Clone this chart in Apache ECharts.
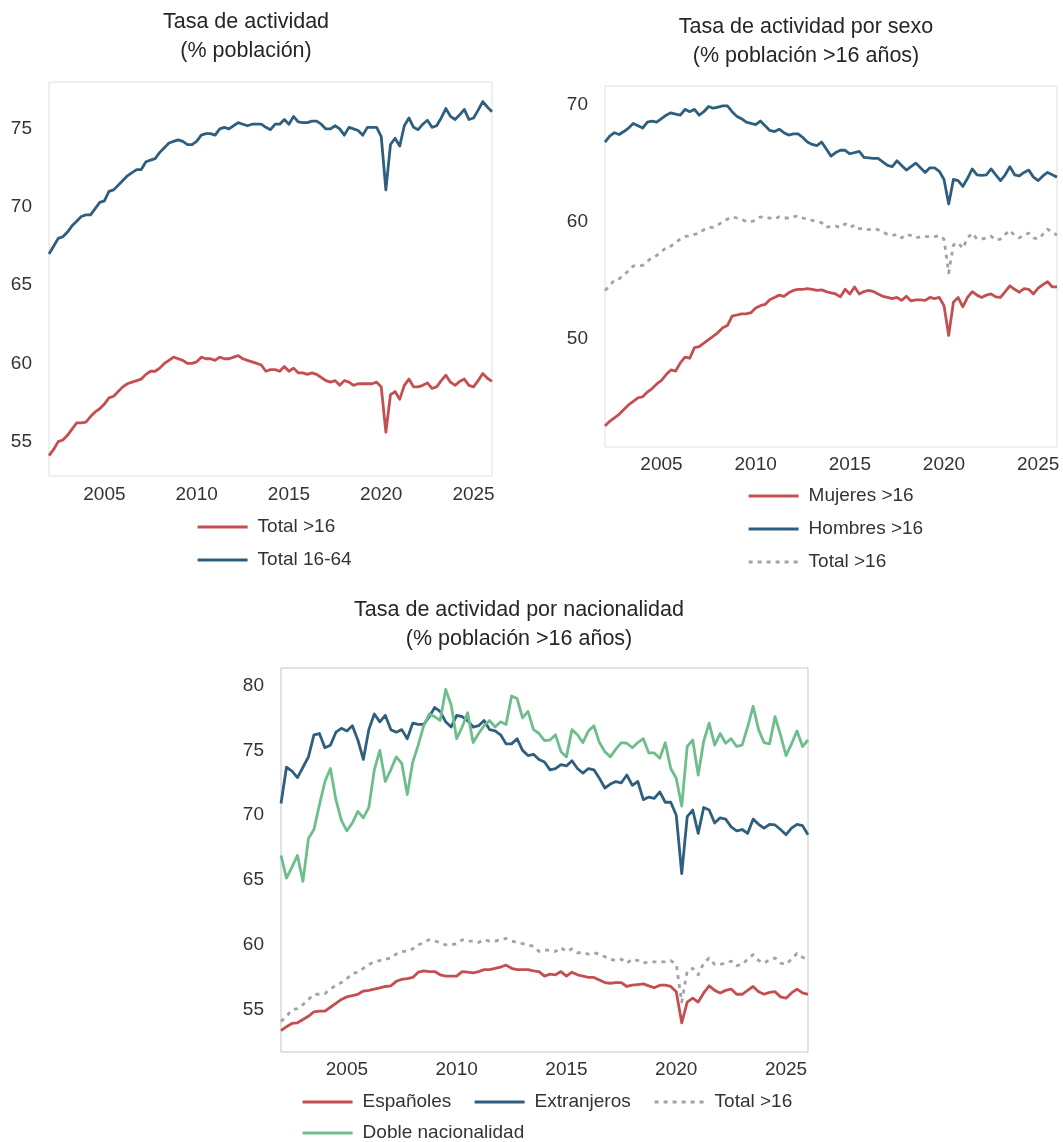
<!DOCTYPE html>
<html>
<head>
<meta charset="utf-8">
<title>Tasa de actividad</title>
<script src="https://cdn.jsdelivr.net/npm/echarts@6/dist/echarts.min.js"></script>
<style>
  html, body { margin: 0; padding: 0; background: #fff; }
  #chart { width: 1063px; height: 1142px; }
</style>
</head>
<body>
<div id="chart"></div>
<script>
// trimestres 2002T1 .. 2026T1
const quarters = [];
for (let y = 2002; y <= 2026; y++) {
  for (let q = 1; q <= 4; q++) {
    if (y === 2026 && q > 1) break;
    quarters.push(y + 'T' + q);
  }
}

const xTicks = [2005, 2010, 2015, 2020, 2025];
const yTicks1 = [55, 60, 65, 70, 75];
const yTicks2 = [50, 60, 70];
const yTicks3 = [55, 60, 65, 70, 75, 80];

// Total >16 (panel 1 en rojo, paneles 2 y 3 en gris punteado)
const total16 = [
  54.1, 54.5, 55.0, 55.1, 55.4, 55.8, 56.2, 56.2, 56.25, 56.6,
  56.9, 57.1, 57.4, 57.8, 57.9, 58.2, 58.5, 58.7, 58.8, 58.9,
  59.0, 59.3, 59.5, 59.5, 59.7, 60.0, 60.2, 60.4, 60.3, 60.2,
  60.0, 60.0, 60.1, 60.4, 60.3, 60.3, 60.2, 60.4, 60.3, 60.3,
  60.4, 60.5, 60.3, 60.2, 60.1, 60.0, 59.9, 59.5, 59.6, 59.6,
  59.5, 59.8, 59.5, 59.7, 59.4, 59.4, 59.3, 59.4, 59.3, 59.1,
  58.9, 58.8, 58.9, 58.6, 58.9, 58.8, 58.6, 58.7, 58.7, 58.7,
  58.7, 58.8, 58.5, 55.6, 58.0, 58.2, 57.7, 58.6, 59.0, 58.5,
  58.5, 58.6, 58.75, 58.4, 58.5, 58.9, 59.25, 58.8, 58.6, 58.85,
  59.0, 58.6, 58.5, 58.9, 59.35, 59.05, 58.85
];
const total1664 = [
  67.0, 67.5, 68.0, 68.1, 68.4, 68.8, 69.1, 69.4, 69.5, 69.5,
  69.9, 70.3, 70.4, 71.0, 71.1, 71.4, 71.7, 72.0, 72.2, 72.4,
  72.4, 72.9, 73.0, 73.1, 73.5, 73.8, 74.1, 74.2, 74.3, 74.2,
  74.0, 74.0, 74.2, 74.6, 74.7, 74.7, 74.6, 75.0, 75.1, 75.0,
  75.2, 75.4, 75.3, 75.2, 75.3, 75.3, 75.3, 75.1, 74.95, 75.3,
  75.3, 75.6, 75.3, 75.8, 75.45, 75.4, 75.4, 75.5, 75.5, 75.3,
  75.0, 75.0, 75.2, 75.0, 74.6, 75.1, 75.0, 74.9, 74.6, 75.1,
  75.1, 75.1, 74.5, 71.1, 74.0, 74.4, 73.9, 75.2, 75.7, 75.1,
  74.95, 75.3, 75.55, 75.1, 75.2, 75.7, 76.3, 75.8, 75.6, 75.9,
  76.25, 75.6, 75.7, 76.2, 76.75, 76.4, 76.1
];
const mujeres = [
  42.5, 42.9, 43.2, 43.5, 43.9, 44.3, 44.6, 44.9, 45.0, 45.4,
  45.7, 46.1, 46.4, 46.9, 47.3, 47.2, 47.9, 48.4, 48.3, 49.2,
  49.3, 49.6, 49.9, 50.2, 50.5, 50.9, 51.1, 51.9, 52.0, 52.1,
  52.1, 52.2, 52.6, 52.8, 52.9, 53.3, 53.5, 53.7, 53.6, 53.9,
  54.1, 54.2, 54.2, 54.25, 54.2, 54.1, 54.15, 54.0, 53.9, 53.8,
  53.55, 54.2, 53.8, 54.4, 53.8, 54.0, 54.1, 54.0, 53.8, 53.6,
  53.5, 53.4, 53.5, 53.25, 53.6, 53.2, 53.3, 53.3, 53.25, 53.5,
  53.4, 53.5, 52.8, 50.25, 53.1, 53.5, 52.7, 53.5, 54.0, 53.7,
  53.5, 53.7, 53.8, 53.55, 53.5, 54.0, 54.5, 54.2, 53.95, 54.25,
  54.2, 53.8, 54.3, 54.6, 54.85, 54.4, 54.4
];
const hombres = [
  66.8, 67.3, 67.6, 67.45, 67.7, 68.0, 68.4, 68.2, 68.0, 68.5,
  68.6, 68.5, 68.8, 69.1, 69.3, 69.2, 69.1, 69.6, 69.4, 69.6,
  69.1, 69.4, 69.85, 69.7, 69.8, 69.9, 69.9, 69.4, 69.0, 68.8,
  68.5, 68.4, 68.3, 68.6, 68.2, 67.8, 67.7, 67.9, 67.6, 67.4,
  67.5, 67.5, 67.2, 66.8, 66.6, 66.5, 66.8, 66.2, 65.6, 65.9,
  66.1, 66.1, 65.8, 65.9, 66.0, 65.5, 65.45, 65.4, 65.4, 65.1,
  64.8, 64.7, 65.2, 64.8, 64.4, 64.7, 65.0, 64.6, 64.2, 64.6,
  64.6, 64.3, 63.6, 61.5, 63.6, 63.5, 63.0, 63.7, 64.5, 64.0,
  63.95, 64.0, 64.5, 64.0, 63.5, 64.0, 64.7, 64.0, 63.9, 64.2,
  64.4, 63.8, 63.5, 63.9, 64.2, 64.0, 63.8
];
const espanoles = [
  53.4, 53.7, 53.95, 54.0, 54.25, 54.5, 54.85, 54.9, 54.9, 55.2,
  55.5, 55.8, 56.0, 56.1, 56.2, 56.45, 56.5, 56.6, 56.7, 56.8,
  56.85, 57.2, 57.35, 57.4, 57.5, 57.9, 58.0, 57.95, 57.95, 57.7,
  57.6, 57.6, 57.6, 57.95, 57.9, 57.85, 57.95, 58.1, 58.1, 58.2,
  58.3, 58.45, 58.2, 58.1, 58.1, 58.1, 58.0, 57.95, 57.6, 57.75,
  57.7, 57.95, 57.6, 57.9, 57.7, 57.6, 57.5, 57.5, 57.3, 57.1,
  57.05, 57.1, 57.1, 56.8, 56.9, 56.95, 57.0, 56.85, 56.7, 56.9,
  56.9, 56.8, 56.4, 54.0, 55.6, 55.9, 55.6, 56.3, 56.85, 56.5,
  56.3, 56.5, 56.6, 56.2, 56.2, 56.5, 56.8, 56.4, 56.2, 56.35,
  56.4, 56.0, 55.9, 56.3, 56.6, 56.3, 56.2
];
const extranjeros = [
  70.9, 73.7, 73.4, 72.9, 73.7, 74.5, 76.2, 76.3, 75.2, 75.4,
  76.4, 76.7, 76.5, 76.9, 75.8, 74.3, 76.6, 77.8, 77.2, 77.7,
  76.6, 76.4, 76.6, 75.9, 77.1, 77.0, 77.0, 77.6, 78.3, 78.0,
  77.2, 76.8, 77.7, 77.6, 77.3, 76.8, 76.9, 77.3, 76.6, 76.5,
  76.2, 75.5, 75.5, 75.9, 75.0, 74.6, 74.7, 74.3, 74.1, 73.5,
  73.6, 73.9, 73.8, 74.2, 73.6, 73.25, 73.6, 73.5, 72.85, 72.1,
  72.4, 72.6, 72.5, 73.1, 72.3, 72.6, 71.2, 71.4, 71.3, 71.8,
  71.0, 71.0, 70.0, 65.5, 69.9, 70.4, 68.6, 70.6, 70.4, 69.4,
  69.8, 69.7, 69.1, 68.8, 68.9, 68.6, 69.7, 69.3, 69.0, 69.3,
  69.25, 68.9, 68.5, 69.0, 69.3, 69.2, 68.5
];
const dobleNac = [
  66.9, 65.15, 66.0, 66.9, 64.9, 68.2, 68.9, 70.8, 72.6, 73.6,
  71.2, 69.6, 68.8, 69.4, 70.3, 69.8, 70.6, 73.5, 75.0, 72.6,
  73.5, 74.5, 74.0, 71.6, 74.1, 75.4, 76.9, 77.8, 77.6, 77.3,
  79.7, 78.5, 75.9, 76.8, 77.9, 75.6, 76.3, 76.9, 77.3, 76.8,
  77.2, 77.0, 79.2, 79.0, 77.5, 78.0, 76.6, 76.3, 75.75, 75.8,
  76.2, 74.9, 74.5, 76.6, 76.2, 75.6, 76.5, 76.9, 75.6, 74.9,
  74.5, 75.1, 75.6, 75.55, 75.2, 75.6, 75.9, 74.8, 74.8, 74.4,
  75.6, 73.6, 72.85, 70.7, 75.3, 75.8, 73.1, 75.7, 77.1, 75.4,
  76.3, 75.55, 75.9, 75.3, 75.4, 76.8, 78.4, 76.6, 75.6, 75.5,
  77.6, 76.2, 74.6, 75.5, 76.5, 75.3, 75.8
];

const RED = '#c44e52';
const BLUE = '#2f5f7e';
const GREEN = '#6dbe8c';
const GREY = '#9fa4aa';
const FONT = '"Liberation Sans", Arial, sans-serif';

// 2002T1 -> 2002.0, 2002T2 -> 2002.25 ...
function qToYear(label) {
  const parts = label.split('T');
  return Number(parts[0]) + (Number(parts[1]) - 1) / 4;
}
function pts(values) {
  return values.map((v, i) => [qToYear(quarters[i]), v]);
}

function xAxisFor(gridIndex, margin) {
  return {
    type: 'value', gridIndex: gridIndex, min: 2002, max: 2026,
    axisLine: { show: false }, axisTick: { show: false }, splitLine: { show: false },
    axisLabel: {
      customValues: xTicks, margin: margin, fontSize: 19, color: '#333',
      fontFamily: FONT, formatter: v => String(v)
    }
  };
}
function yAxisFor(gridIndex, min, max, ticks) {
  return {
    type: 'value', gridIndex: gridIndex, min: min, max: max,
    axisLine: { show: false }, axisTick: { show: false }, splitLine: { show: false },
    axisLabel: {
      customValues: ticks, margin: 17, fontSize: 19, color: '#333',
      fontFamily: FONT, formatter: v => String(v)
    }
  };
}
function lineSeries(name, data, color, idx, dotted) {
  return {
    name: name, type: 'line', xAxisIndex: idx, yAxisIndex: idx,
    data: pts(data), symbol: 'none', showSymbol: false,
    lineStyle: {
      color: color, width: 2.8, join: 'round',
      type: dotted ? [4, 5] : 'solid', cap: 'butt'
    },
    itemStyle: { color: color },
    emphasis: { disabled: true }
  };
}

// sin marcador circular en la leyenda, solo la línea
const legendBase = {
  orient: 'vertical', itemWidth: 50, itemHeight: 14, itemGap: 13,
  selectedMode: false,
  itemStyle: { opacity: 0, borderWidth: 0 },
  lineStyle: { width: 3.2 },
  textStyle: { fontSize: 19, color: '#333', fontFamily: FONT, lineHeight: 20, padding: [0, 0, 0, 5] },
  formatter: name => name.split('|')[0]
};
function legendAt(left, top, names) {
  return Object.assign({}, legendBase, { left: left, top: top, data: names });
}

const titleStyle = { fontSize: 21.5, fontWeight: 'normal', color: '#262626', lineHeight: 29, fontFamily: FONT };

const chart = echarts.init(document.getElementById('chart'), null, { renderer: 'canvas' });
chart.setOption({
  animation: false,
  backgroundColor: '#fff',
  textStyle: { fontFamily: FONT },
  title: [
    { text: 'Tasa de actividad\n(% población)', left: 246, top: 8, textAlign: 'center', padding: 0, textStyle: titleStyle },
    { text: 'Tasa de actividad por sexo\n(% población >16 años)', left: 806, top: 13, textAlign: 'center', padding: 0, textStyle: titleStyle },
    { text: 'Tasa de actividad por nacionalidad\n(% población >16 años)', left: 519, top: 596, textAlign: 'center', padding: 0, textStyle: titleStyle }
  ],
  grid: [
    { left: 49, top: 82, width: 443, height: 394, show: true, borderColor: '#e0e0e0', borderWidth: 1, backgroundColor: '#fff' },
    { left: 605, top: 86, width: 452, height: 361, show: true, borderColor: '#e0e0e0', borderWidth: 1, backgroundColor: '#fff' },
    { left: 281, top: 668, width: 527, height: 384, show: true, borderColor: '#c6c6c6', borderWidth: 1, backgroundColor: '#fff' }
  ],
  xAxis: [xAxisFor(0, 9), xAxisFor(1, 8), xAxisFor(2, 8)],
  yAxis: [
    yAxisFor(0, 52.8, 78.0, yTicks1),
    yAxisFor(1, 40.7, 71.6, yTicks2),
    yAxisFor(2, 51.75, 81.35, yTicks3)
  ],
  legend: [
    legendAt(191, 512, ['Total >16|1', 'Total 16-64']),
    legendAt(742, 481, ['Mujeres >16', 'Hombres >16', 'Total >16|2']),
    legendAt(296, 1087, ['Españoles']),
    legendAt(468, 1087, ['Extranjeros']),
    legendAt(648, 1087, ['Total >16|3']),
    legendAt(296, 1118, ['Doble nacionalidad'])
  ],
  series: [
    lineSeries('Total >16|1', total16, RED, 0, false),
    lineSeries('Total 16-64', total1664, BLUE, 0, false),
    lineSeries('Mujeres >16', mujeres, RED, 1, false),
    lineSeries('Hombres >16', hombres, BLUE, 1, false),
    lineSeries('Total >16|2', total16, GREY, 1, true),
    lineSeries('Españoles', espanoles, RED, 2, false),
    lineSeries('Extranjeros', extranjeros, BLUE, 2, false),
    lineSeries('Total >16|3', total16, GREY, 2, true),
    lineSeries('Doble nacionalidad', dobleNac, GREEN, 2, false)
  ]
});
</script>
</body>
</html>
